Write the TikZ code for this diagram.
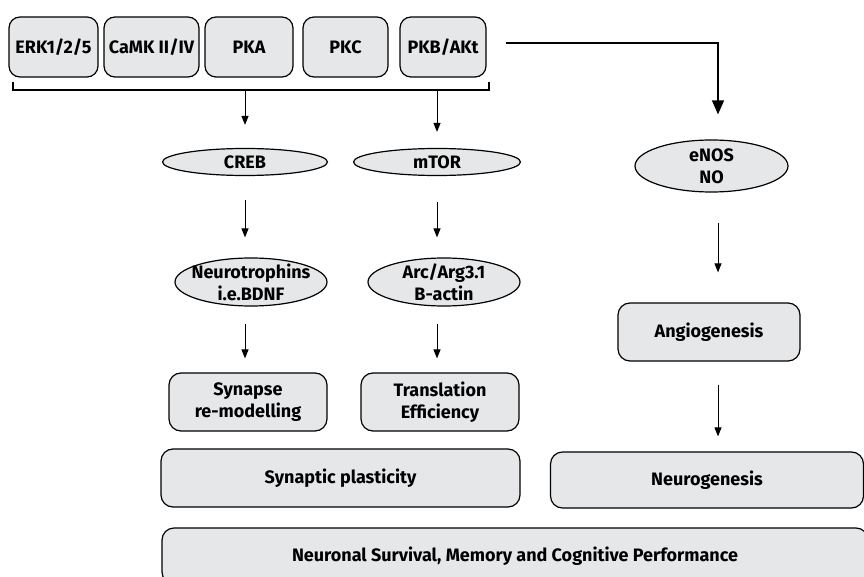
\documentclass[tikz,border=0pt]{standalone}
\usepackage{fontspec}
\setmainfont{Fira Sans}
\usetikzlibrary{arrows.meta, shapes.geometric}

\begin{document}
\begin{tikzpicture}[x=1pt, y=-1pt, line width=1.2pt,
		font=\fontsize{18}{22}\selectfont\bfseries,
		kinase/.style={draw, rounded corners=11pt, fill=boxgray, align=center,
			minimum width=#1, minimum height=60pt, inner sep=0pt},
		target/.style={draw, ellipse, fill=boxgray, align=center,
			inner xsep=-10pt, inner ysep=-5pt},
		effect/.style={draw, rounded corners=12pt, fill=boxgray, align=center,
			minimum height=58pt, inner sep=0pt},
		arr/.style={-{Triangle[length=9pt, width=7pt]}, line width=1pt}]
		\definecolor{boxgray}{HTML}{E6E7E8}
		\clip (0, 0) rectangle (864, 577);
		% Kinases on top.
		\node[kinase=89pt] (erk) at (53.5, 47) {ERK1/2/5};
		\node[kinase=95pt] (camk) at (151.5, 47) {CaMK II/IV};
		\node[kinase=88pt] (pka) at (249, 47) {PKA};
		\node[kinase=85pt] (pkc) at (345.5, 47) {PKC};
		\node[kinase=86pt] (pkb) at (443, 47) {PKB/AKt};
		% Bracket under the kinases.
		\coordinate (bl) at (13, 90);
		\coordinate (br) at (489, 90);
		\draw ([yshift=8pt]bl) -- (bl) -- (br) -- ([yshift=8pt]br);
		% Columns of arrows.
		\coordinate (col1) at (245, 90);
		\coordinate (col2) at (437, 90);
		\coordinate (col3) at (718, 43);
		% Second row: transcription and signalling.
		\node[target, minimum width=165pt, minimum height=27pt] (creb) at (245, 162) {CREB};
		\node[target, minimum width=167pt, minimum height=27pt] (mtor) at (437, 162) {mTOR};
		\node[target, minimum width=153pt, minimum height=52pt] (enos) at (711.5, 166) {eNOS\\NO};
		\node[target, minimum width=152pt, minimum height=48pt] (neuro) at (251, 282) {Neurotrophins\\i.e.BDNF};
		\node[target, minimum width=152pt, minimum height=48pt] (arc) at (444, 282) {Arc/Arg3.1\\B-actin};
		% Effects.
		\node[effect, minimum width=158pt] (syn) at (248, 402) {Synapse\\re-modelling};
		\node[effect, minimum width=158pt] (trans) at (440, 402) {Translation\\Efficiency};
		\node[effect, minimum width=182pt] (angio) at (709, 332) {Angiogenesis};
		\node[effect, minimum width=359pt] (plast) at (340.5, 478) {Synaptic plasticity};
		\node[effect, minimum width=313pt, minimum height=56pt] (neurog) at (707, 480) {Neurogenesis};
		\node[effect, minimum width=706pt, minimum height=56pt] (surv) at (515, 556)
			{Neuronal Survival, Memory and Cognitive Performance};
		% Arrows.
		\draw[arr] (col1) -- ([yshift=23pt]col1 |- creb.north);
		\draw[arr] (col2) -- ([yshift=16pt]col2 |- mtor.north);
		\draw[-{Triangle[length=14pt, width=12pt]}, line width=1.3pt]
			([xshift=19pt]pkb.east |- col3) -- (col3) -- ([yshift=25pt]col3 |- enos.north);
		\draw[arr] ([yshift=-24pt]col1 |- creb.south) -- ([yshift=20pt]col1 |- neuro.north);
		\draw[arr] ([yshift=-26pt]col2 |- mtor.south) -- ([yshift=20pt]col2 |- arc.north);
		\draw[arr] ([yshift=-30pt]col3 |- enos.south) -- ([yshift=30pt]col3 |- angio.north);
		\draw[arr] ([yshift=-17pt]col1 |- neuro.south) -- ([yshift=14pt]col1 |- syn.north);
		\draw[arr] ([yshift=-17pt]col2 |- arc.south) -- ([yshift=14pt]col2 |- trans.north);
		\draw[arr] ([yshift=-23pt]col3 |- angio.south) -- ([yshift=15pt]col3 |- neurog.north);
	\end{tikzpicture}
\end{document}
